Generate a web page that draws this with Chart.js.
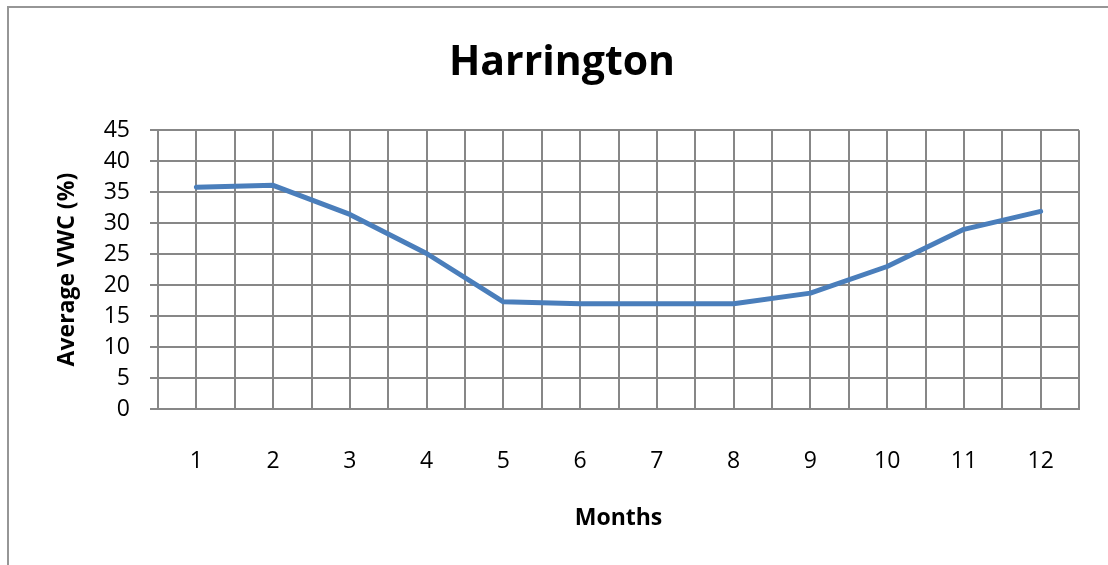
<!DOCTYPE html>
<html>
<head>
<meta charset="utf-8">
<script src="https://cdn.jsdelivr.net/npm/chart.js@4"></script>
<style>
  html, body { margin: 0; padding: 0; background: #ffffff; }
  #wrap { position: relative; width: 1108px; height: 565px; overflow: hidden; background: #fff; }
  #frame { position: absolute; left: 7px; top: 6px; width: 1200px; height: 700px;
           border-left: 2px solid #969696; border-top: 2px solid #969696; box-sizing: border-box; }
  canvas { position: absolute; left: 0; top: 0; }
</style>
</head>
<body>
<div id="wrap">
  <div id="frame"></div>
  <canvas id="c" width="1108" height="565"></canvas>
</div>
<script>
const chartTitle = "Harrington";
const xAxisTitle = "Months";
const yAxisTitle = "Average VWC (%)";
const months = [1, 2, 3, 4, 5, 6, 7, 8, 9, 10, 11, 12];
const avgVWC = [35.8, 36.1, 31.4, 25.1, 17.3, 17.0, 17.0, 17.0, 18.7, 23.0, 29.0, 31.9];
const yTicks = [0, 5, 10, 15, 20, 25, 30, 35, 40, 45];

const gridColor = '#878787';
const fontFam = '"Open Sans", "Liberation Sans", sans-serif';

new Chart(document.getElementById('c'), {
  type: 'line',
  data: {
    datasets: [{
      label: 'Average VWC',
      data: months.map((m, i) => ({ x: m, y: avgVWC[i] })),
      borderColor: '#4a7ebb',
      backgroundColor: '#4a7ebb',
      borderWidth: 5,
      pointRadius: 0,
      tension: 0,
      borderCapStyle: 'round',
      borderJoinStyle: 'round'
    }]
  },
  options: {
    responsive: false,
    animation: false,
    layout: { padding: { left: 45, right: 29, top: 0, bottom: 0 } },
    plugins: {
      legend: { display: false },
      tooltip: { enabled: false },
      title: {
        display: true,
        text: chartTitle,
        color: '#000',
        font: { family: fontFam, size: 41, weight: 'bold', lineHeight: 1.2 },
        padding: { top: 39, bottom: 42 }
      }
    },
    scales: {
      x: {
        type: 'linear',
        min: 0.5,
        max: 12.5,
        afterBuildTicks: (scale) => {
          const t = [];
          for (let v = 0.5; v <= 12.5001; v += 0.5) t.push({ value: v });
          scale.ticks = t;
        },
        afterFit: (scale) => { scale.height = 156; scale.paddingLeft = 0; scale.paddingRight = 0; },
        ticks: {
          autoSkip: false,
          maxRotation: 0,
          color: '#000',
          font: { family: fontFam, size: 23 },
          padding: 39,
          callback: (v) => Number.isInteger(v) ? String(months[v - 1]) : ''
        },
        grid: { color: gridColor, lineWidth: 2, drawTicks: false },
        border: { color: gridColor, width: 2 },
        title: {
          display: true,
          text: xAxisTitle,
          color: '#000',
          font: { family: fontFam, size: 23, weight: 'bold', lineHeight: 1.2 },
          padding: { top: 0, bottom: 33 }
        }
      },
      y: {
        min: 0,
        max: 45,
        afterBuildTicks: (scale) => { scale.ticks = yTicks.map(v => ({ value: v })); },
        afterFit: (scale) => { scale.width = 113; },
        ticks: {
          color: '#000',
          font: { family: fontFam, size: 23 },
          padding: 20
        },
        grid: { color: gridColor, lineWidth: 2, tickLength: 8 },
        border: { color: gridColor, width: 2 },
        title: {
          display: true,
          text: yAxisTitle,
          color: '#000',
          font: { family: fontFam, size: 23, weight: 'bold', lineHeight: 1.2 },
          padding: { top: 9, bottom: 0 }
        }
      }
    }
  }
});
</script>
</body>
</html>
